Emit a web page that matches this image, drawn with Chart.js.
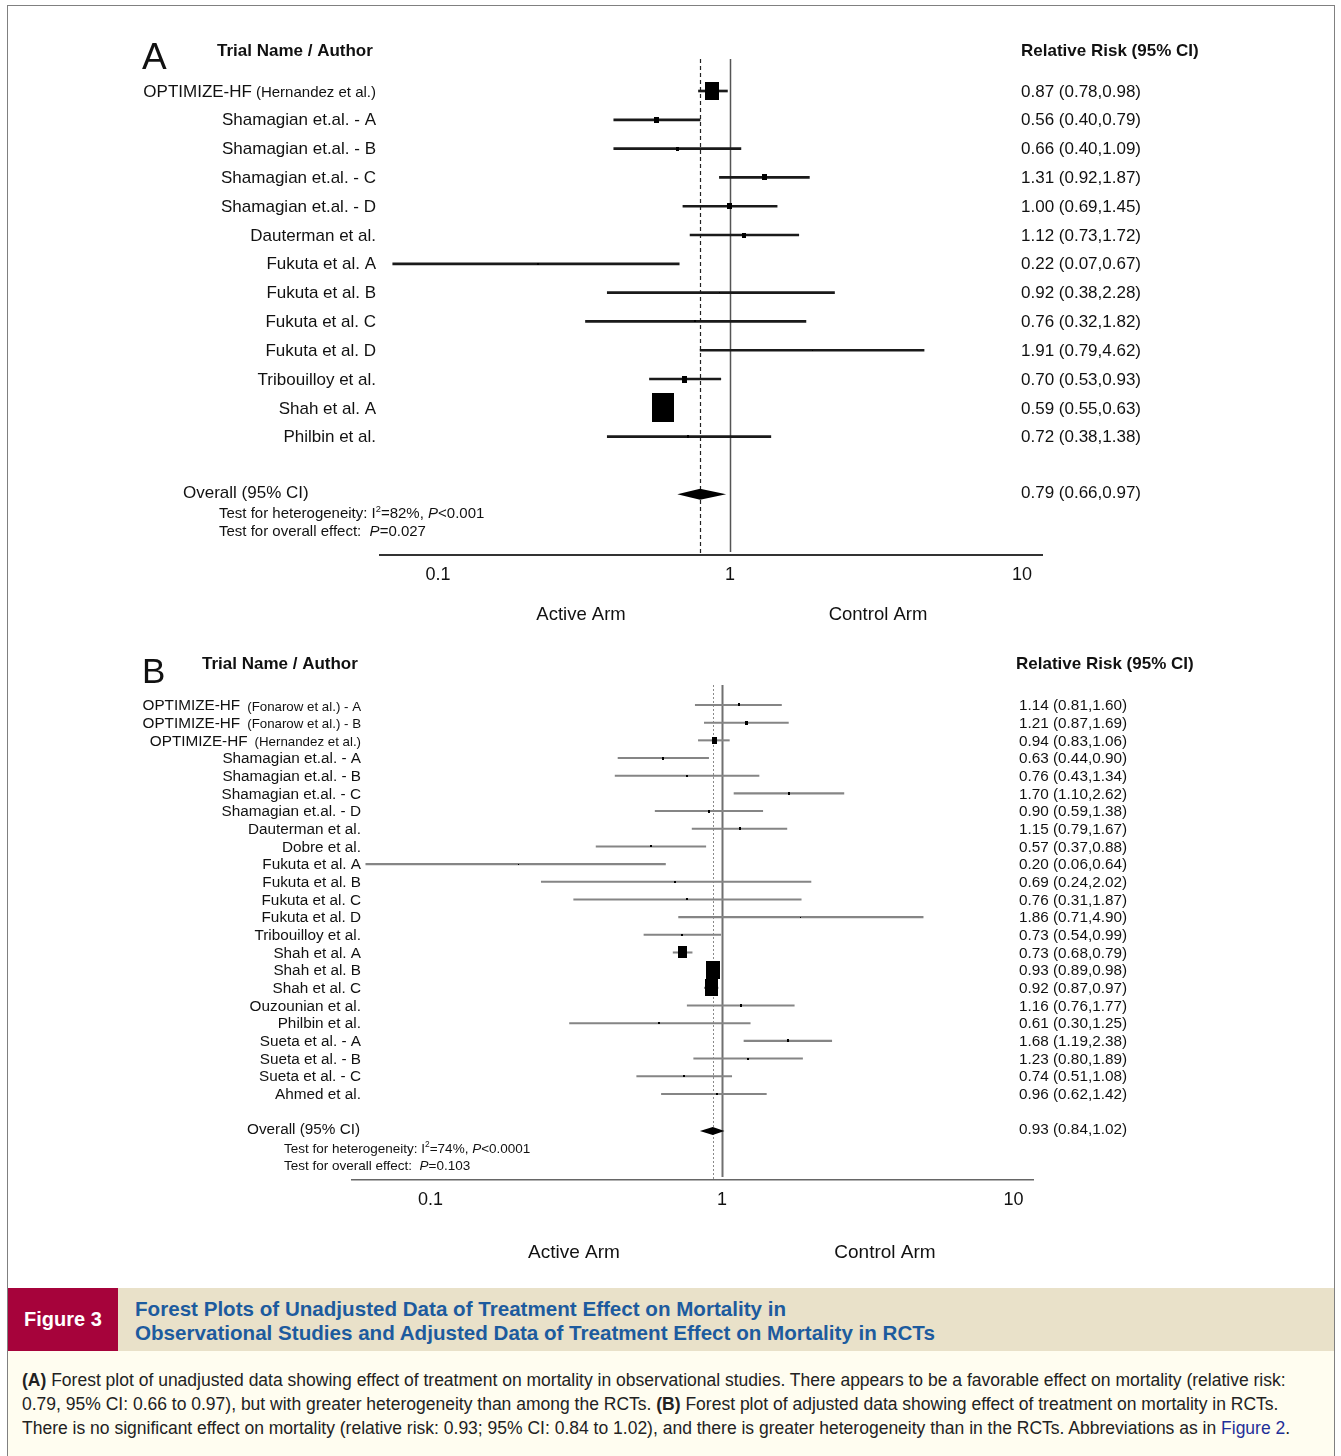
<!DOCTYPE html>
<html>
<head>
<meta charset="utf-8">
<title>Forest plots of treatment effect on mortality</title>
<script src="https://cdn.jsdelivr.net/npm/chart.js@4.4.1/dist/chart.umd.min.js"></script>
<style>
  html, body { margin: 0; padding: 0; background: #fff; }
  #page { position: relative; width: 1341px; height: 1456px; overflow: hidden; background: #fff; }
  #frame { position: absolute; left: 7px; top: 5px; width: 1328px; height: 1500px; border: 1px solid #808080; box-sizing: border-box; }
  canvas { position: absolute; left: 0; }
  #plotA { top: 0; }
  #plotB { top: 640px; }
  #band { position: absolute; left: 8px; top: 1288px; width: 1326px; height: 63px; background: #e9e1c9; }
  #tag { position: absolute; left: 8px; top: 1288px; width: 110px; height: 63px; background: #a6033b; color: #fff;
         font: bold 20px 'Liberation Sans', Arial, sans-serif; display: flex; align-items: center; justify-content: center; }
  #title { position: absolute; left: 135px; top: 1297px; color: #1d5b9e; white-space: nowrap;
           font: bold 20.6px/24px 'Liberation Sans', Arial, sans-serif; }
  #note { position: absolute; left: 8px; top: 1351px; width: 1326px; height: 120px; background: #fffdf0; }
  #noteText { position: absolute; left: 22px; top: 1368px; color: #222; white-space: nowrap;
              font: 17.5px/24px 'Liberation Sans', Arial, sans-serif; }
  #noteText .ref { color: #1f2f99; }
</style>
</head>
<body>
<div id="page">
  <div id="frame"></div>
  <canvas id="plotA" width="1341" height="640" style="width:1341px;height:640px"></canvas>
  <canvas id="plotB" width="1341" height="645" style="width:1341px;height:645px"></canvas>
  <div id="band"></div>
  <div id="tag">Figure 3</div>
  <div id="title">Forest Plots of Unadjusted Data of Treatment Effect on Mortality in<br>Observational Studies and Adjusted Data of Treatment Effect on Mortality in RCTs</div>
  <div id="note"></div>
  <div id="noteText"><b>(A)</b> Forest plot of unadjusted data showing effect of treatment on mortality in observational studies. There appears to be a favorable effect on mortality (relative risk:<br>0.79, 95% CI: 0.66 to 0.97), but with greater heterogeneity than among the RCTs. <b>(B)</b> Forest plot of adjusted data showing effect of treatment on mortality in RCTs.<br>There is no significant effect on mortality (relative risk: 0.93; 95% CI: 0.84 to 1.02), and there is greater heterogeneity than in the RCTs. Abbreviations as in <span class="ref">Figure 2</span>.</div>
</div>

<script>
// ---- Panel A: unadjusted data, observational studies ----
const namesA = ['OPTIMIZE-HF', 'Shamagian et.al. - A', 'Shamagian et.al. - B', 'Shamagian et.al. - C',
  'Shamagian et.al. - D', 'Dauterman et al.', 'Fukuta et al. A', 'Fukuta et al. B', 'Fukuta et al. C',
  'Fukuta et al. D', 'Tribouilloy et al.', 'Shah et al. A', 'Philbin et al.'];
const notesA = ['(Hernandez et al.)', '', '', '', '', '', '', '', '', '', '', '', ''];
const rrA    = [0.87, 0.56, 0.66, 1.31, 1.00, 1.12, 0.22, 0.92, 0.76, 1.91, 0.70, 0.59, 0.72];
const lowA   = [0.78, 0.40, 0.40, 0.92, 0.69, 0.73, 0.07, 0.38, 0.32, 0.79, 0.53, 0.55, 0.38];
const highA  = [0.98, 0.79, 1.09, 1.87, 1.45, 1.72, 0.67, 2.28, 1.82, 4.62, 0.93, 0.63, 1.38];
const weightA = [23.4, 2.6, 1.2, 2.6, 2.6, 1.8, 0.3, 0.1, 0.3, 0.1, 3.5, 60.9, 0.7];
const overallA = [0.79, 0.66, 0.97];           // pooled RR, lower, upper
const statsA   = ['82%', '<0.001', '=0.027'];  // I², heterogeneity P, overall-effect P

// ---- Panel B: adjusted data, RCTs ----
const namesB = ['OPTIMIZE-HF', 'OPTIMIZE-HF', 'OPTIMIZE-HF', 'Shamagian et.al. - A', 'Shamagian et.al. - B',
  'Shamagian et.al. - C', 'Shamagian et.al. - D', 'Dauterman et al.', 'Dobre et al.', 'Fukuta et al. A',
  'Fukuta et al. B', 'Fukuta et al. C', 'Fukuta et al. D', 'Tribouilloy et al.', 'Shah et al. A',
  'Shah et al. B', 'Shah et al. C', 'Ouzounian et al.', 'Philbin et al.', 'Sueta et al. - A',
  'Sueta et al. - B', 'Sueta et al. - C', 'Ahmed et al.'];
const notesB = ['(Fonarow et al.) - A', '(Fonarow et al.) - B', '(Hernandez et al.)', '', '', '', '', '', '',
  '', '', '', '', '', '', '', '', '', '', '', '', '', ''];
const rrB    = [1.14, 1.21, 0.94, 0.63, 0.76, 1.70, 0.90, 1.15, 0.57, 0.20, 0.69, 0.76, 1.86, 0.73, 0.73,
  0.93, 0.92, 1.16, 0.61, 1.68, 1.23, 0.74, 0.96];
const lowB   = [0.81, 0.87, 0.83, 0.44, 0.43, 1.10, 0.59, 0.79, 0.37, 0.06, 0.24, 0.31, 0.71, 0.54, 0.68,
  0.89, 0.87, 0.76, 0.30, 1.19, 0.80, 0.51, 0.62];
const highB  = [1.60, 1.69, 1.06, 0.90, 1.34, 2.62, 1.38, 1.67, 0.88, 0.64, 2.02, 1.87, 4.90, 0.99, 0.79,
  0.98, 0.97, 1.77, 1.25, 2.38, 1.89, 1.08, 1.42];
const weightB = [1.0, 1.8, 5.4, 1.0, 0.25, 1.0, 1.0, 1.0, 0.45, 0.1, 0.25, 0.25, 0.1, 0.45, 15.8,
  35.4, 31.6, 1.0, 0.25, 1.0, 0.45, 0.45, 0.25];
const overallB = [0.93, 0.84, 1.02];
const statsB   = ['74%', '<0.0001', '=0.103'];

// ---- shared axis ----
const axisTicks  = [0.1, 1, 10];
const tickLabels = ['0.1', '1', '10'];

const FONT = "'Liberation Sans', Arial, sans-serif";
Chart.defaults.font.family = FONT;
Chart.defaults.color = '#111';

// Study-weight boxes: filled rectangles whose area follows the weight
function boxImages(weights, scale, aspect) {
  return weights.map(w => {
    const h = Math.max(1, Math.round(scale * Math.sqrt(w)));
    const wd = Math.max(1, Math.round(h * aspect));
    const c = document.createElement('canvas');
    c.width = wd; c.height = h;
    const g = c.getContext('2d');
    g.fillStyle = '#000';
    g.fillRect(0, 0, wd, h);
    return c;
  });
}

function richText(ctx, parts, x, y, size) {
  let cx = x;
  parts.forEach(p => {
    const s = p.sup ? size * 0.62 : size;
    ctx.font = (p.italic ? 'italic ' : '') + s + 'px ' + FONT;
    ctx.fillText(p.t, cx, p.sup ? y - size * 0.32 : y);
    cx += ctx.measureText(p.t).width;
  });
}

function forestPlugin(d, L) {
  return {
    id: 'forest',
    beforeDatasetsDraw(chart) {
      const { ctx, chartArea: a, scales: { x } } = chart;
      ctx.save();
      // line of no effect
      const x1 = Math.round(x.getPixelForValue(1)) + 0.5;
      ctx.strokeStyle = L.nullColor; ctx.lineWidth = L.nullWidth;
      ctx.beginPath(); ctx.moveTo(x1, a.top); ctx.lineTo(x1, a.bottom - 3); ctx.stroke();
      // pooled estimate
      const xp = Math.round(x.getPixelForValue(d.overall[0])) + 0.5;
      ctx.strokeStyle = L.poolColor; ctx.lineWidth = L.poolWidth; ctx.setLineDash(L.poolDash);
      ctx.beginPath(); ctx.moveTo(xp, a.top); ctx.lineTo(xp, a.bottom); ctx.stroke();
      ctx.restore();
    },
    afterDatasetsDraw(chart) {
      const { ctx, scales: { x, y } } = chart;
      const yo = y.getPixelForValue(L.overallRow);
      const xl = x.getPixelForValue(d.overall[1]);
      const xm = x.getPixelForValue(d.overall[0]);
      const xr = x.getPixelForValue(d.overall[2]);
      ctx.save();
      ctx.fillStyle = '#000';
      ctx.beginPath();
      ctx.moveTo(xl, yo); ctx.lineTo(xm, yo - L.diamondHalf);
      ctx.lineTo(xr, yo); ctx.lineTo(xm, yo + L.diamondHalf);
      ctx.closePath(); ctx.fill();
      ctx.restore();
    },
    afterDraw(chart) {
      const { ctx, scales: { y } } = chart;
      ctx.save();
      ctx.fillStyle = '#111';
      // panel letter and column headers
      ctx.textBaseline = 'alphabetic'; ctx.textAlign = 'left';
      ctx.font = L.letterSize + 'px ' + FONT;
      ctx.fillText(L.letter, 142, L.letterBase);
      ctx.font = 'bold 17px ' + FONT;
      ctx.fillText('Trial Name / Author', L.headLeft, L.headBase);
      ctx.fillText('Relative Risk (95% CI)', L.rrHeadLeft, L.headBase);

      // study rows
      ctx.textBaseline = 'middle';
      d.names.forEach((name, i) => {
        const yy = y.getPixelForValue(i) + 1;
        let xr = L.labelRight;
        ctx.textAlign = 'right';
        if (d.notes[i]) {
          ctx.font = L.noteSize + 'px ' + FONT;
          ctx.fillText(d.notes[i], xr, yy + 1);
          xr -= ctx.measureText(d.notes[i]).width + L.noteGap;
        }
        ctx.font = L.nameSize + 'px ' + FONT;
        ctx.fillText(name, xr, yy);
        ctx.textAlign = 'left';
        ctx.fillText(d.rr[i].toFixed(2) + ' (' + d.low[i].toFixed(2) + ',' + d.high[i].toFixed(2) + ')', L.rrLeft, yy);
      });

      // pooled row and test statistics
      const yo = y.getPixelForValue(L.overallRow) - 1;
      ctx.textAlign = 'left';
      ctx.font = L.nameSize + 'px ' + FONT;
      ctx.fillText('Overall (95% CI)', L.overallLeft, yo);
      ctx.fillText(d.overall[0].toFixed(2) + ' (' + d.overall[1].toFixed(2) + ',' + d.overall[2].toFixed(2) + ')', L.rrLeft, yo);
      richText(ctx, [{ t: 'Test for heterogeneity: I' }, { t: '2', sup: true }, { t: '=' + d.stats[0] + ', ' },
        { t: 'P', italic: true }, { t: d.stats[1] }], L.testLeft, yo + L.testGap1, L.testSize);
      richText(ctx, [{ t: 'Test for overall effect:  ' }, { t: 'P', italic: true }, { t: d.stats[2] }],
        L.testLeft, yo + L.testGap2, L.testSize);

      // favours labels
      ctx.textAlign = 'center';
      ctx.font = L.armSize + 'px ' + FONT;
      ctx.fillText('Active Arm', L.activeX, L.armY);
      ctx.fillText('Control Arm', L.controlX, L.armY);
      ctx.restore();
    }
  };
}

function forestChart(id, d, L) {
  const imgs = boxImages(d.weight, L.boxScale, 0.77);
  return new Chart(document.getElementById(id), {
    type: 'scatter',
    data: {
      datasets: [
        {
          type: 'scatter',
          data: d.rr.map((v, i) => ({ x: v, y: i })),
          pointStyle: c => imgs[c.dataIndex] || 'rect',
          pointRadius: 1, pointHoverRadius: 1,
          order: 0
        },
        {
          type: 'bar',
          indexAxis: 'y',
          data: d.rr.map((v, i) => ({ x: [d.low[i], d.high[i]], y: i })),
          backgroundColor: L.ciColor,
          barThickness: L.ciWidth,
          order: 1
        }
      ]
    },
    options: {
      responsive: false,
      animation: false,
      devicePixelRatio: 1,
      events: [],
      layout: { autoPadding: false, padding: { left: L.left, right: L.right, top: L.top, bottom: 0 } },
      plugins: { legend: { display: false }, tooltip: { enabled: false } },
      scales: {
        x: {
          type: 'logarithmic', min: L.xMin, max: L.xMax, offset: false, bounds: 'data',
          afterBuildTicks: s => { s.ticks = axisTicks.map(v => ({ value: v })); },
          afterFit: s => { s.height = L.axisHeight; },
          grid: { display: false, drawTicks: false, offset: false },
          border: { display: true, color: L.axisColor, width: L.axisWidth },
          ticks: { autoSkip: false, maxRotation: 0, padding: 9, color: '#111', font: { size: 18 },
                   callback: (v, i) => tickLabels[i] }
        },
        y: { type: 'linear', display: false, reverse: true, min: L.yMin, max: L.yMax,
             beginAtZero: false, offset: false, bounds: 'data', grace: 0,
             grid: { offset: false } }
      }
    },
    plugins: [forestPlugin(d, L)]
  });
}

forestChart('plotA',
  { names: namesA, notes: notesA, rr: rrA, low: lowA, high: highA, weight: weightA, overall: overallA, stats: statsA },
  { left: 380, right: 299, top: 59, axisHeight: 85, xMin: 0.0633, xMax: 11.71, yMin: -1.111, yMax: 16.11,
    overallRow: 14, boxScale: 3.72, ciColor: '#1a1a1a', ciWidth: 2,
    nullColor: '#555', nullWidth: 1.5, poolColor: '#222', poolWidth: 1.2, poolDash: [4, 3],
    axisColor: '#333', axisWidth: 2, diamondHalf: 5.5,
    letter: 'A', letterSize: 37, letterBase: 69, headLeft: 217, rrHeadLeft: 1021, headBase: 56,
    labelRight: 376, noteGap: 4, nameSize: 17, noteSize: 15, rrLeft: 1021,
    overallLeft: 183, testLeft: 219, testSize: 15, testGap1: 21, testGap2: 39,
    armSize: 18.5, armY: 615, activeX: 581, controlX: 878 });

forestChart('plotB',
  { names: namesB, notes: notesB, rr: rrB, low: lowB, high: highB, weight: weightB, overall: overallB, stats: statsB },
  { left: 352, right: 308, top: 45, axisHeight: 105, xMin: 0.0538, xMax: 11.67, yMin: -1.131, yMax: 26.87,
    overallRow: 24.1, boxScale: 3.03, ciColor: '#858585', ciWidth: 1.4,
    nullColor: '#707070', nullWidth: 2, poolColor: '#8a8a8a', poolWidth: 1, poolDash: [2, 2],
    axisColor: '#666', axisWidth: 1.5, diamondHalf: 4,
    letter: 'B', letterSize: 35, letterBase: 43, headLeft: 202, rrHeadLeft: 1016, headBase: 29,
    labelRight: 361, noteGap: 7, nameSize: 15.3, noteSize: 13.3, rrLeft: 1019,
    overallLeft: 247, testLeft: 284, testSize: 13.5, testGap1: 19, testGap2: 36,
    armSize: 19, armY: 613, activeX: 574, controlX: 885 });
</script>
</body>
</html>
